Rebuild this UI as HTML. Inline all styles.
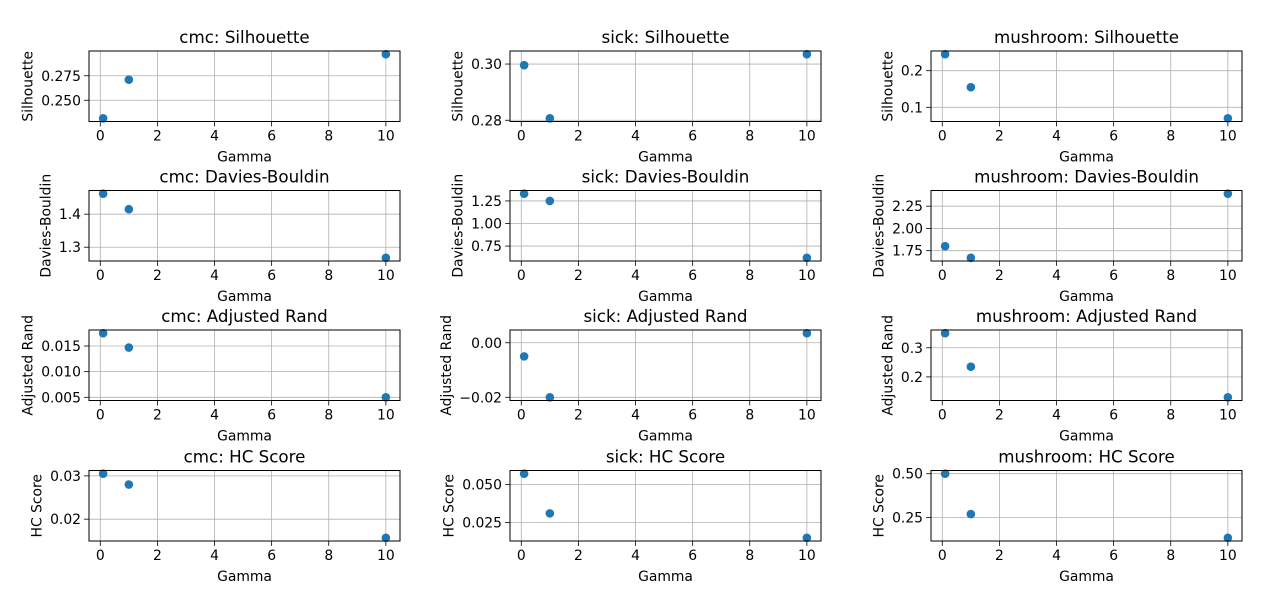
<!DOCTYPE html>
<html><head><meta charset="utf-8">
<style>
html,body{margin:0;padding:0;background:#fff;}
svg{display:block;font-family:"DejaVu Sans","Liberation Sans",sans-serif;}
</style></head>
<body>
<svg id="fig" width="1280" height="612" viewBox="0 0 1280 612" xmlns="http://www.w3.org/2000/svg"></svg>
<script>
const gammas = [0.1, 1, 10];
const xTicks = [0, 2, 4, 6, 8, 10];
const datasets = ["cmc", "sick", "mushroom"];
const metrics = ["Silhouette", "Davies-Bouldin", "Adjusted Rand", "HC Score"];

const cmcSil = [0.2316, 0.271, 0.297];
const sickSil = [0.2996, 0.2807, 0.3035];
const mushSil = [0.245, 0.155, 0.07];
const cmcDB = [1.462, 1.415, 1.268];
const sickDB = [1.33, 1.25, 0.62];
const mushDB = [1.80, 1.67, 2.39];
const cmcAR = [0.0175, 0.0147, 0.0050];
const sickAR = [-0.005, -0.020, 0.0035];
const mushAR = [0.35, 0.235, 0.13];
const cmcHC = [0.0305, 0.028, 0.0157];
const sickHC = [0.057, 0.031, 0.015];
const mushHC = [0.50, 0.27, 0.135];

const cmcSilTicks = ["0.250", "0.275"];
const sickSilTicks = ["0.28", "0.30"];
const mushSilTicks = ["0.1", "0.2"];
const cmcDBTicks = ["1.3", "1.4"];
const sickDBTicks = ["0.75", "1.00", "1.25"];
const mushDBTicks = ["1.75", "2.00", "2.25"];
const cmcARTicks = ["0.005", "0.010", "0.015"];
const sickARTicks = ["-0.02", "0.00"];
const mushARTicks = ["0.2", "0.3"];
const cmcHCTicks = ["0.02", "0.03"];
const sickHCTicks = ["0.025", "0.050"];
const mushHCTicks = ["0.25", "0.50"];

const series = [[cmcSil, sickSil, mushSil],[cmcDB, sickDB, mushDB],[cmcAR, sickAR, mushAR],[cmcHC, sickHC, mushHC]];
const ticks = [[cmcSilTicks, sickSilTicks, mushSilTicks],[cmcDBTicks, sickDBTicks, mushDBTicks],[cmcARTicks, sickARTicks, mushARTicks],[cmcHCTicks, sickHCTicks, mushHCTicks]];

const NS = "http://www.w3.org/2000/svg";
const fig = document.getElementById("fig");
const colL = [89, 510, 931], colW = 311;
const rowT = [51, 190.5, 330, 470.5], rowH = 70.5;

function mk(tag, attrs, parent) {
  const e = document.createElementNS(NS, tag);
  for (const k in attrs) e.setAttribute(k, attrs[k]);
  parent.appendChild(e);
  return e;
}

for (let r = 0; r < 4; r++) {
  for (let c = 0; c < 3; c++) {
    const L = colL[c], T = rowT[r], W = colW, H = rowH;
    const vals = series[r][c];
    const g = mk("g", {}, fig);
    
    
    const xmin = Math.min(...gammas), xmax = Math.max(...gammas);
    const xr = xmax - xmin, x0 = xmin - 0.05*xr, x1 = xmax + 0.05*xr;
    const ymin = Math.min(...vals), ymax = Math.max(...vals);
    const yr = ymax - ymin, y0 = ymin - 0.05*yr, y1 = ymax + 0.05*yr;
    const sx = v => L + (v - x0) / (x1 - x0) * W;
    const sy = v => T + H - (v - y0) / (y1 - y0) * H;
    xTicks.forEach(t => {
      const x = sx(t);
      const gl = mk("line", {x1:x, x2:x, y1:T, y2:T+H, stroke:"#b0b0b0", "stroke-width":0.8}, g);
      
      
      mk("line", {x1:x, x2:x, y1:T+H, y2:T+H+4.9, stroke:"#000", "stroke-width":0.8}, g);
      const tl = mk("text", {x:x, y:T+H+19, "text-anchor":"middle", "font-size":13.9, fill:"#000"}, g);
      tl.textContent = t;
      
      
    });
    let maxW = 0;
    ticks[r][c].forEach(s => {
      const v = parseFloat(s);
      const y = sy(v);
      const gl = mk("line", {x1:L, x2:L+W, y1:y, y2:y, stroke:"#b0b0b0", "stroke-width":0.8}, g);
      
      
      mk("line", {x1:L-4.9, x2:L, y1:y, y2:y, stroke:"#000", "stroke-width":0.8}, g);
      const tl = mk("text", {x:L-8, y:y+5, "text-anchor":"end", "font-size":13.9, fill:"#000"}, g);
      tl.textContent = s.replace("-", "\u2212");
      
      
      maxW = Math.max(maxW, tl.getComputedTextLength());
    });
    gammas.forEach((gv, i) => {
      const p = mk("circle", {cx:sx(gv), cy:sy(vals[i]), r:4.3, fill:"#1f77b4"}, g);
      
      
    });
    const fr = mk("rect", {x:L, y:T, width:W, height:H, fill:"none", stroke:"#000", "stroke-width":1}, g);
    
    
    const ti = mk("text", {x:L+W/2, y:T-8, "text-anchor":"middle", "font-size":16.7, fill:"#000"}, g);
    ti.textContent = datasets[c] + ": " + metrics[r];
    
    
    const xl = mk("text", {x:L+W/2, y:T+H+40, "text-anchor":"middle", "font-size":13.9, fill:"#000"}, g);
    xl.textContent = "Gamma";
    
    
    const lx = L - 8 - maxW - 8.5;
    const yl = mk("text", {x:lx, y:T+H/2, "text-anchor":"middle", "font-size":13.9, fill:"#000", transform:"rotate(-90 "+lx+" "+(T+H/2)+")"}, g);
    yl.textContent = metrics[r];
    
    
  }
}
</script>
</body></html>
